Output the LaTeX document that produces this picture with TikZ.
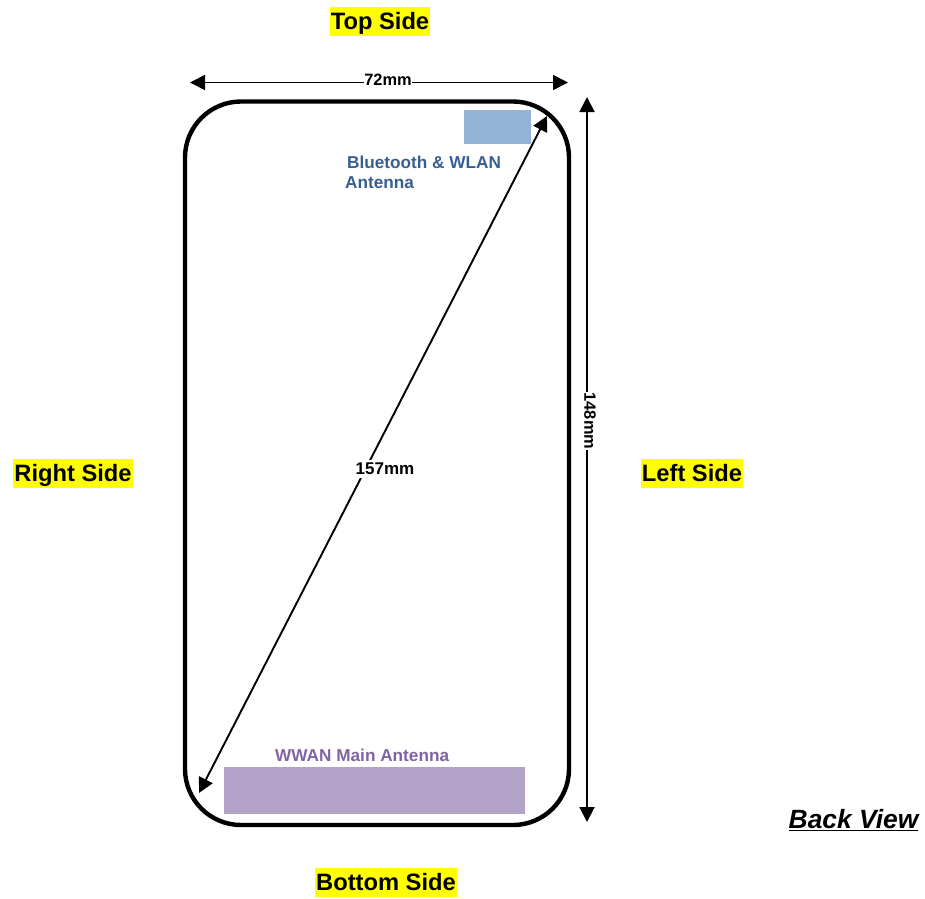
\documentclass[tikz,border=0pt]{standalone}
\usepackage{fontspec}
\setmainfont{Liberation Sans}
\usetikzlibrary{arrows.meta}
\definecolor{hl}{RGB}{255,255,0}
\definecolor{bluetxt}{RGB}{54,95,145}
\definecolor{bluebox}{RGB}{149,179,215}
\definecolor{purptxt}{RGB}{128,100,162}
\definecolor{purpbox}{RGB}{178,162,199}
\tikzset{
 x=1pt,y=-1pt,
 side/.style={font=\fontsize{23.7}{26}\selectfont\bfseries,fill=hl,inner xsep=1pt,inner ysep=0pt,text height=22.5pt,text depth=6.5pt},
 dim/.style={font=\fontsize{16.4}{18}\selectfont\bfseries,fill=white,inner xsep=0.5pt,inner ysep=3pt},
 dimline/.style={line width=1.9pt,{Triangle[length=15pt,width=15pt]}-{Triangle[length=15pt,width=15pt]}},
 ant/.style={font=\fontsize{17.2}{19}\selectfont\bfseries,inner sep=0pt,anchor=west},
}
\begin{document}
\begin{tikzpicture}
\useasboundingbox (0,0) rectangle (925,898);
\node[side] (top) at (380,21) {Top Side};
\node[side] (bottom) at (386,882.5) {Bottom Side};
\node[side] (right) at (73,473.5) {Right Side};
\node[side] (left) at (692,473.5) {Left Side};
\node[font=\fontsize{26.4}{29}\selectfont\bfseries\itshape,inner sep=0pt] (back) at (853.5,820) {\underline{Back View}};
\draw[line width=4.4pt,rounded corners=56pt] (185,101.5) rectangle (569,825);
\node[fill=bluebox,minimum width=67pt,minimum height=34pt,inner sep=0pt] (bt) at (497.5,127) {};
\node[fill=purpbox,minimum width=301pt,minimum height=47pt,inner sep=0pt] (wwan) at (374.5,790.5) {};
\node[ant,text=bluetxt] (btl1) at (347,162) {Bluetooth \& WLAN};
\node[ant,text=bluetxt] (btl2) at (345,183) {Antenna};
\node[ant,text=purptxt] (wl) at (275,755) {WWAN Main Antenna};
\coordinate (wl1) at (190,82.5); \coordinate (wl2) at (568,82.5);
\coordinate (hl1) at (587,97); \coordinate (hl2) at (587,822);
\coordinate (dl1) at (547,116); \coordinate (dl2) at (199,793);
\coordinate (wlab) at (388,80); \coordinate (hlab) at (590,421); \coordinate (dlab) at (385,469);
\draw[dimline] (wl1) -- (wl2);
\draw[dimline] (hl1) -- (hl2);
\draw[dimline] (dl1) -- (dl2);
\node[dim] (w) at (wlab) {72mm};
\node[dim,rotate=-90] (h) at (hlab) {148mm};
\node[dim,font=\fontsize{17}{18}\selectfont\bfseries] (d) at (dlab) {157mm};
\end{tikzpicture}
\end{document}
